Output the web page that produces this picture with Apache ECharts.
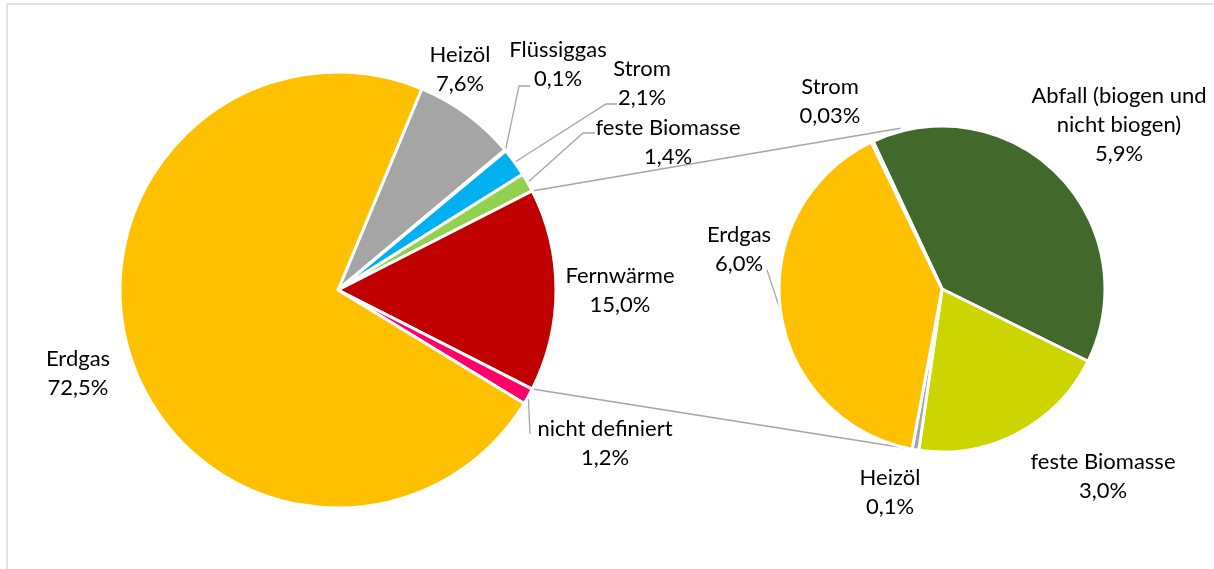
<!DOCTYPE html>
<html>
<head>
<meta charset="utf-8">
<script src="https://cdn.jsdelivr.net/npm/echarts@6/dist/echarts.min.js"></script>
<style>
html,body{margin:0;padding:0;background:#fff;}
#main{width:1214px;height:569px;}
</style>
</head>
<body>
<div id="main"></div>
<script>
// Hauptkreis
var mainNames = ['Heizöl', 'Flüssiggas', 'Strom', 'feste Biomasse', 'Fernwärme', 'nicht definiert', 'Erdgas'];
var mainValues = [7.6, 0.1, 2.1, 1.4, 15.0, 1.2, 72.5];
var mainColors = ['#a5a5a5', '#5b9bd5', '#00b0f0', '#92d050', '#c00000', '#ff0066', '#ffc000'];

// Aufteilung Fernwärme
var subNames = ['Abfall (biogen und\nnicht biogen)', 'feste Biomasse', 'Heizöl', 'Erdgas', 'Strom'];
var subValues = [5.9, 3.0, 0.1, 6.0, 0.03];
var subColors = ['#43682b', '#cdd500', '#a5a5a5', '#ffc000', '#00b0f0'];

// Label-Positionen (Mitte des Textblocks) und Hilfslinien
var mainLabelPos = [[460,69],[558,64],[642,83],[668,142],[620,290],[605,443],[78,373]];
var mainLeader = [null, [[519,86],[530,86]], [[606,104],[617,104]], [[583,133],[595,133]], null, [[530,434]], null];
var subLabelPos = [[1119,125],[1103,476],[890,492],[739,249],[830,101]];
var subLeader = [null, null, null, [[767,270]], null];

var mainCenter = [338, 290], mainR = 218;
var subCenter = [942, 289], subR = 163;
var splitIndex = 4; // Fernwärme

function fmt(v){
	return (v < 0.1 ? v.toFixed(2) : v.toFixed(1)).replace('.', ',') + '%';
}
function sum(arr){
	var s=0;
	for(var i=0;i<arr.length;i++){ s+=arr[i]; }
	return s;
}

// Startwinkel so, dass Fernwärme mittig rechts liegt
var mainTotal = sum(mainValues);
var before = sum(mainValues.slice(0, splitIndex));
var halfSplit = mainValues[splitIndex] / mainTotal * 180;
var mainStart = before / mainTotal * 360 + halfSplit;

function makeData(names, values, colors, leaders){
	var arr=[];
	for(var i=0;i<names.length;i++){
		arr.push({
			name: names[i],
			value: values[i],
			itemStyle: {color: colors[i]},
			labelLine: {show: !!leaders[i]}
		});
	}
	return arr;
}

function layoutFn(pos, leaders){
	return function(p){
		var i = p.dataIndex;
		var res = {x: pos[i][0], y: pos[i][1], align: 'center', verticalAlign: 'middle'};
		if(leaders[i] && p.labelLinePoints){
			res.labelLinePoints = [p.labelLinePoints[0]].concat(leaders[i]);
		}
		return res;
	};
}

function pt(c, r, deg){
	var a = deg * Math.PI / 180;
	return [c[0] + r * Math.cos(a), c[1] - r * Math.sin(a)];
}

var p1 = pt(mainCenter, mainR, halfSplit);
var p2 = pt(mainCenter, mainR, -halfSplit);
var q1 = pt(subCenter, subR + 3, 104.5);
var q2 = pt(subCenter, subR, -102.5);

var labelStyle = {
	fontFamily: 'Lato',
	fontSize: 22,
	lineHeight: 29,
	color: '#000',
	formatter: function(p){ return p.name + '\n' + fmt(p.value); }
};

var myChart = echarts.init(document.getElementById('main'));
myChart.setOption({
	animation: false,
	graphic: [
		{type:'line', shape:{x1:7, y1:4, x2:1214, y2:4}, style:{stroke:'#d9d9d9', lineWidth:1.5}},
		{type:'line', shape:{x1:7, y1:4, x2:7, y2:569}, style:{stroke:'#d9d9d9', lineWidth:1.5}},
		{type:'line', shape:{x1:p1[0], y1:p1[1], x2:q1[0], y2:q1[1]}, style:{stroke:'#a6a6a6', lineWidth:1.5}},
		{type:'line', shape:{x1:p2[0], y1:p2[1], x2:q2[0], y2:q2[1]}, style:{stroke:'#a6a6a6', lineWidth:1.5}}
	],
	series: [
		{
			type: 'pie',
			center: mainCenter,
			radius: [0, mainR],
			startAngle: mainStart,
			clockwise: true,
			avoidLabelOverlap: false,
			itemStyle: {borderColor: '#fff', borderWidth: 3},
			label: labelStyle,
			labelLine: {lineStyle: {color: '#a6a6a6', width: 1.3}, length: 10, length2: 10},
			labelLayout: layoutFn(mainLabelPos, mainLeader),
			emphasis: {disabled: true},
			data: makeData(mainNames, mainValues, mainColors, mainLeader)
		},
		{
			type: 'pie',
			center: subCenter,
			radius: [0, subR],
			startAngle: 115,
			clockwise: true,
			avoidLabelOverlap: false,
			itemStyle: {borderColor: '#fff', borderWidth: 3},
			label: labelStyle,
			labelLine: {lineStyle: {color: '#a6a6a6', width: 1.3}, length: 10, length2: 10},
			labelLayout: layoutFn(subLabelPos, subLeader),
			emphasis: {disabled: true},
			data: makeData(subNames, subValues, subColors, subLeader)
		}
	]
});
</script>
</body>
</html>
